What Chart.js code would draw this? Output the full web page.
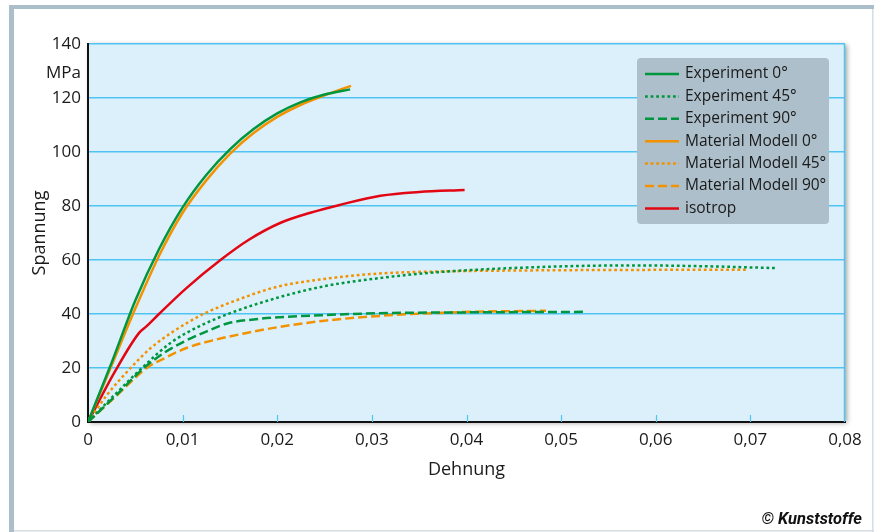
<!DOCTYPE html>
<html>
<head>
<meta charset="utf-8">
<script src="https://cdn.jsdelivr.net/npm/chart.js@4.4.1/dist/chart.umd.min.js"></script>
<style>
  html, body { margin: 0; padding: 0; background: #fff; }
  #wrap { width: 874px; height: 532px; position: relative; }
</style>
</head>
<body>
<div id="wrap"><canvas id="c"></canvas></div>
<script>
// ---------- DATA ----------
const xTickLabels = ['0', '0,01', '0,02', '0,03', '0,04', '0,05', '0,06', '0,07', '0,08'];
const yTickValues = [0, 20, 40, 60, 80, 100, 120, 140];

const seriesNames = ['Experiment 0°', 'Experiment 45°', 'Experiment 90°',
                     'Material Modell 0°', 'Material Modell 45°', 'Material Modell 90°', 'isotrop'];

const exp0X = [0, 0.0025, 0.005, 0.0075, 0.010, 0.0125, 0.015, 0.0175, 0.020, 0.0225, 0.025, 0.0277];
const exp0Y = [0, 22, 45, 64, 79.5, 91.5, 101, 108.5, 114.3, 118.5, 121.3, 123.2];

const exp45X = [0, 0.0028, 0.0057, 0.0088, 0.0118, 0.0148, 0.0200, 0.0250, 0.0308, 0.0370, 0.0448, 0.0520, 0.0580, 0.0650, 0.0727];
const exp45Y = [0, 10, 20, 29.5, 35.5, 40, 46, 50.3, 53.3, 55.5, 57, 57.8, 58, 57.7, 57];

const exp90X = [0, 0.0030, 0.0059, 0.0080, 0.0101, 0.0125, 0.0147, 0.0175, 0.0203, 0.0250, 0.0308, 0.0400, 0.0526];
const exp90Y = [0, 10, 20, 25.5, 29.7, 33.5, 36.5, 38, 38.8, 39.6, 40.3, 40.6, 40.8];

const mod0X = [0, 0.0025, 0.005, 0.0075, 0.010, 0.0125, 0.015, 0.0175, 0.020, 0.0225, 0.025, 0.0278];
const mod0Y = [0, 21, 42, 61.5, 77.5, 89.5, 99.3, 107, 113, 117.5, 121, 124.5];

const mod45X = [0, 0.0020, 0.0045, 0.0065, 0.0090, 0.0122, 0.0160, 0.0199, 0.0250, 0.0308, 0.0379, 0.0450, 0.0550, 0.0696];
const mod45Y = [0, 10, 20, 27, 33.5, 40, 45.5, 50, 53, 55, 55.8, 56.1, 56.3, 56.4];

const mod90X = [0, 0.0030, 0.0062, 0.0083, 0.0104, 0.0135, 0.0165, 0.0202, 0.0250, 0.0308, 0.0395, 0.0484];
const mod90Y = [0, 9.7, 20, 24, 27.4, 30.5, 32.8, 35.2, 37.5, 39.3, 40.7, 41.2];

const isoX = [0, 0.0029, 0.0054, 0.0062, 0.0075, 0.0104, 0.0140, 0.0170, 0.0203, 0.0235, 0.0266, 0.0309, 0.0350, 0.0398];
const isoY = [0, 19, 33, 35.5, 40, 49.6, 60, 67.5, 73.7, 77.5, 80.4, 83.8, 85.2, 85.9];

// ---------- STYLE ----------
const GREEN = '#00963f', ORANGE = '#f39200', RED = '#e30613';
const DOT = [2.8, 2.8], DASH = [9, 4];
const FONT = '"Open Sans", "Noto Sans", sans-serif';
const TXT = '#1a1a1a';

function pts(xs, ys) { return xs.map((x, i) => ({ x: x, y: ys[i] })); }
function ds(label, xs, ys, color, dash) {
  return {
    label: label, data: pts(xs, ys), borderColor: color, backgroundColor: color,
    borderWidth: 2.5, borderDash: dash, borderCapStyle: 'butt',
    showLine: true, pointRadius: 0, pointHoverRadius: 0, fill: false,
    tension: 0.4, cubicInterpolationMode: 'monotone'
  };
}

const datasets = [
  ds(seriesNames[0], exp0X, exp0Y, GREEN, []),
  ds(seriesNames[1], exp45X, exp45Y, GREEN, DOT),
  ds(seriesNames[2], exp90X, exp90Y, GREEN, DASH),
  ds(seriesNames[3], mod0X, mod0Y, ORANGE, []),
  ds(seriesNames[4], mod45X, mod45Y, ORANGE, DOT),
  ds(seriesNames[5], mod90X, mod90Y, ORANGE, DASH),
  ds(seriesNames[6], isoX, isoY, RED, [])
];

const deco = {
  id: 'deco',
  beforeDraw(chart) {
    const { ctx, chartArea: a, width, height } = chart;
    ctx.save();
    ctx.fillStyle = '#ffffff';
    ctx.fillRect(0, 0, width, height);
    // outer frame
    ctx.fillStyle = '#aabfca';
    ctx.fillRect(9, 5, width - 9, 4);
    ctx.fillRect(9, 5, 5, height - 5);
    ctx.fillStyle = '#d3dde2';
    ctx.fillRect(width - 2, 9, 1.5, height - 9);
    ctx.fillRect(14, height - 2, width - 14, 1.5);
    // plot area with shadow
    ctx.shadowColor = 'rgba(0,0,0,0.38)';
    ctx.shadowBlur = 5;
    ctx.shadowOffsetX = 2;
    ctx.shadowOffsetY = 1;
    ctx.fillStyle = '#dcf0fc';
    ctx.fillRect(a.left, a.top, a.right - a.left, a.bottom - a.top);
    ctx.restore();
  },
  beforeDatasetsDraw(chart) {
    const { ctx, chartArea: a } = chart;
    const xs = chart.scales.x;
    ctx.save();
    // right edge of plot
    ctx.strokeStyle = '#4fc3f2';
    ctx.lineWidth = 1.5;
    ctx.beginPath();
    ctx.moveTo(a.right - 0.5, a.top);
    ctx.lineTo(a.right - 0.5, a.bottom);
    ctx.stroke();
    // small inner ticks on x axis
    ctx.lineWidth = 1.2;
    for (let i = 1; i < xTickLabels.length - 1; i++) {
      const px = Math.round(xs.getPixelForValue(i * 0.01)) + 0.5;
      ctx.beginPath();
      ctx.moveTo(px, a.bottom);
      ctx.lineTo(px, a.bottom - 7);
      ctx.stroke();
    }
    ctx.restore();
  },
  afterDraw(chart) {
    const { ctx, chartArea: a } = chart;
    const ys = chart.scales.y;
    ctx.save();
    // unit label
    ctx.fillStyle = TXT;
    ctx.font = '17px ' + FONT;
    ctx.textAlign = 'right';
    ctx.textBaseline = 'middle';
    const yMid = (ys.getPixelForValue(140) + ys.getPixelForValue(120)) / 2 + 2;
    ctx.fillText('MPa', a.left - 7, yMid);

    // legend
    const lw = 192, lh = 166;
    const lx = a.right - 16 - lw, ly = a.top + 14;
    ctx.fillStyle = '#adbfca';
    ctx.beginPath();
    if (ctx.roundRect) ctx.roundRect(lx, ly, lw, lh, 4); else ctx.rect(lx, ly, lw, lh);
    ctx.fill();
    ctx.font = '15.5px ' + FONT;
    ctx.textAlign = 'left';
    ctx.textBaseline = 'middle';
    chart.data.datasets.forEach((d, i) => {
      const cy = ly + 16 + i * 22.4;
      ctx.strokeStyle = d.borderColor;
      ctx.lineWidth = 2.5;
      ctx.setLineDash(d.borderDash || []);
      ctx.beginPath();
      ctx.moveTo(lx + 8, cy);
      ctx.lineTo(lx + 42, cy);
      ctx.stroke();
      ctx.setLineDash([]);
      ctx.fillStyle = TXT;
      ctx.fillText(d.label, lx + 48, cy);
    });

    // copyright
    ctx.font = 'italic bold 16.5px "Liberation Sans Narrow", "Roboto", sans-serif';
    ctx.textAlign = 'right';
    ctx.textBaseline = 'alphabetic';
    ctx.fillStyle = '#111';
    ctx.fillText('© Kunststoffe', chart.width - 12, 524);
    ctx.restore();
  }
};

Chart.defaults.font.family = FONT;
Chart.defaults.color = TXT;

new Chart(document.getElementById('c'), {
  type: 'scatter',
  data: { datasets: datasets },
  plugins: [deco],
  options: {
    responsive: true,
    maintainAspectRatio: false,
    animation: false,
    devicePixelRatio: 1,
    layout: { padding: { left: 0, top: 44, right: 29, bottom: 0 } },
    plugins: { legend: { display: false }, tooltip: { enabled: false } },
    scales: {
      x: {
        type: 'linear', min: 0, max: 0.08,
        afterFit(s) { s.height = 110; },
        afterBuildTicks(s) { s.ticks = xTickLabels.map((t, i) => ({ value: i * 0.01 })); },
        ticks: {
          padding: 8, font: { size: 17 }, color: TXT, maxRotation: 0, autoSkip: false,
          callback: (v, i) => xTickLabels[i]
        },
        grid: { display: false, drawTicks: false },
        border: { display: true, color: '#111', width: 2 },
        title: { display: true, text: 'Dehnung', font: { size: 18 }, color: TXT, padding: { top: 0, bottom: 51 } }
      },
      y: {
        type: 'linear', min: 0, max: 140,
        afterFit(s) { s.width = 88; },
        afterBuildTicks(s) { s.ticks = yTickValues.map(v => ({ value: v })); },
        ticks: { padding: 7, font: { size: 17 }, color: TXT, autoSkip: false, callback: v => String(v) },
        grid: { color: '#4fc3f2', lineWidth: 1.6, drawTicks: false },
        border: { display: true, color: '#111', width: 2 },
        title: { display: true, text: 'Spannung', font: { size: 18 }, color: TXT, padding: { top: 29, bottom: 0 } }
      }
    }
  }
});
</script>
</body>
</html>
